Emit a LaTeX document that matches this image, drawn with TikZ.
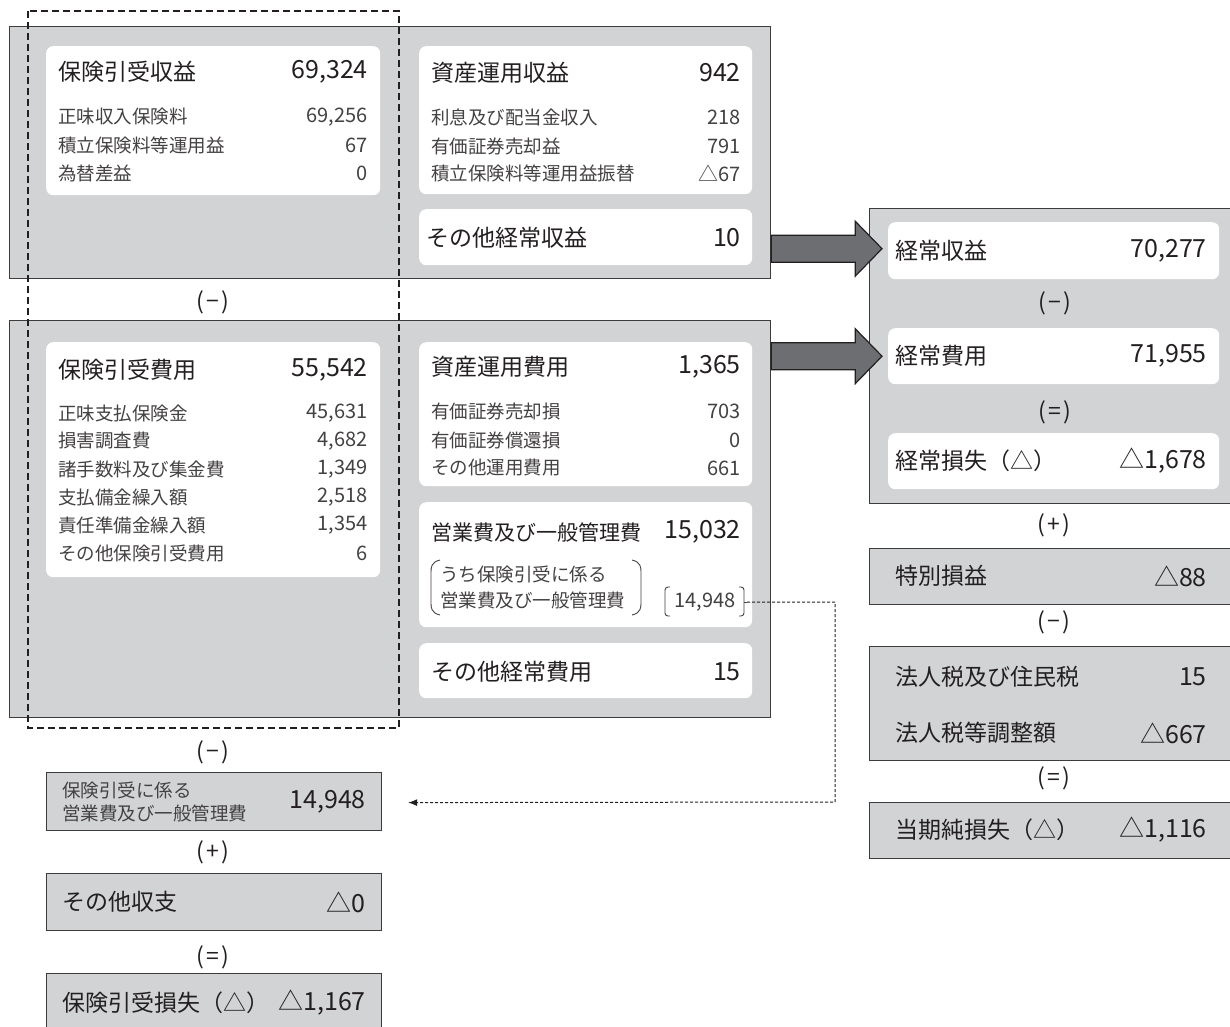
\documentclass[tikz,border=0pt]{standalone}
\usepackage{fontspec}
\setmainfont{Noto Sans CJK JP}
\usetikzlibrary{calc,arrows.meta}
\definecolor{gbg}{HTML}{D1D3D4}
\definecolor{bord}{HTML}{3C3C3C}
\definecolor{txt}{HTML}{231F20}
\definecolor{arrg}{HTML}{6D6E71}
\newcommand{\bx}[6]{\node[#6, minimum width=#4pt, minimum height=#5pt] (#1) at (#2,#3) {};}
\newcommand{\opx}[1]{(\kern2.5pt#1\kern2.5pt)}
\begin{document}
\begin{tikzpicture}[x=1pt,y=-1pt,
  panel/.style={draw=bord, line width=1.2pt, fill=gbg, inner sep=0pt, anchor=north west, rectangle},
  card/.style={fill=white, rounded corners=7pt, inner sep=0pt, anchor=north west, rectangle},
  big/.style={font=\fontsize{23}{27}\selectfont, text=txt, inner sep=0pt},
  bignum/.style={font=\fontsize{25}{28}\selectfont, text=txt, inner sep=0pt},
  sub/.style={font=\fontsize{18.5}{22}\selectfont, text=txt!85, inner sep=0pt},
  subnum/.style={font=\fontsize{20}{23}\selectfont, text=txt!85, inner sep=0pt},
  op/.style={font=\fontsize{23}{26}\selectfont, text=txt, inner sep=0pt},
  L/.style={anchor=west},
  R/.style={anchor=east},
  blk/.style={draw=txt, line width=1.2pt, fill=arrg, line join=miter},
  brk/.style={draw=txt!85, line width=0.9pt, rounded corners=3pt},
  dline/.style={draw=txt, line width=1pt, dash pattern=on 3pt off 2pt},
  dbox/.style={draw=txt, line width=2pt, dash pattern=on 7pt off 4pt}
]
\useasboundingbox (0,0) rectangle (1230,1026);

% ---------- panels ----------
\bx{ptop}{9}{26}{761}{252}{panel}
\bx{pmid}{9}{320}{761}{397}{panel}
\bx{pright}{869}{208}{371}{295}{panel}
\bx{ptoku}{869}{548}{371}{56}{panel}
\bx{ptax}{869}{646}{371}{114}{panel}
\bx{pnet}{869}{802}{371}{56}{panel}
\bx{bH}{46}{772}{335}{58}{panel}
\bx{bI}{46}{873}{335}{57}{panel}
\bx{bJ}{46}{973}{335}{70}{panel}

% ---------- cards ----------
\bx{cA}{46}{46}{334}{149}{card}
\bx{cB}{419}{46}{333}{148}{card}
\bx{cC}{419}{209}{333}{56}{card}
\bx{cD}{46}{342}{334}{235}{card}
\bx{cE}{419}{342}{333}{144}{card}
\bx{cF}{419}{502}{333}{125}{card}
\bx{cG}{419}{643}{333}{55}{card}
\bx{inc}{888}{222}{331}{57}{card}
\bx{exp}{888}{328}{331}{56}{card}
\bx{ord}{888}{433}{331}{56}{card}

% ---------- dashed frame ----------
\draw[dbox] (28,11) rectangle (399,728);

% ---------- card A ----------
\node[big,L] (a0) at (58,72) {保険引受収益};
\node[bignum,R] (a0v) at (368,72) {69,324};
\node[sub,L] (a1) at (58,117) {正味収入保険料};
\node[subnum,R] (a1v) at (368,117) {69,256};
\node[sub,L] (a2) at (58,145) {積立保険料等運用益};
\node[subnum,R] (a2v) at (368,145) {67};
\node[sub,L] (a3) at (58,173) {為替差益};
\node[subnum,R] (a3v) at (368,173) {0};

% ---------- card B ----------
\node[big,L] (b0) at (431,73) {資産運用収益};
\node[bignum,R] (b0v) at (741,73) {942};
\node[sub,L] (b1) at (431,117) {利息及び配当金収入};
\node[subnum,R] (b1v) at (741,117) {218};
\node[sub,L] (b2) at (431,146) {有価証券売却益};
\node[subnum,R] (b2v) at (741,146) {791};
\node[sub,L] (b3) at (431,173) {積立保険料等運用益振替};
\node[subnum,R] (b3v) at (741,173) {△67};

% ---------- card C ----------
\node[big,L] (c0) at (426,238) {その他経常収益};
\node[bignum,R] (c0v) at (741,238) {10};

% ---------- card D ----------
\node[big,L] (d0) at (58,370) {保険引受費用};
\node[bignum,R] (d0v) at (368,370) {55,542};
\node[sub,L] (d1) at (58,413) {正味支払保険金};
\node[subnum,R] (d1v) at (368,413) {45,631};
\node[sub,L] (d2) at (58,441) {損害調査費};
\node[subnum,R] (d2v) at (368,441) {4,682};
\node[sub,L] (d3) at (58,469) {諸手数料及び集金費};
\node[subnum,R] (d3v) at (368,469) {1,349};
\node[sub,L] (d4) at (58,497) {支払備金繰入額};
\node[subnum,R] (d4v) at (368,497) {2,518};
\node[sub,L] (d5) at (58,525) {責任準備金繰入額};
\node[subnum,R] (d5v) at (368,525) {1,354};
\node[sub,L] (d6) at (58,553) {その他保険引受費用};
\node[subnum,R] (d6v) at (368,553) {6};

% ---------- card E ----------
\node[big,L] (e0) at (431,367) {資産運用費用};
\node[bignum,R] (e0v) at (741,367) {1,365};
\node[sub,L] (e1) at (431,411) {有価証券売却損};
\node[subnum,R] (e1v) at (741,411) {703};
\node[sub,L] (e2) at (431,440) {有価証券償還損};
\node[subnum,R] (e2v) at (741,440) {0};
\node[sub,L] (e3) at (431,468) {その他運用費用};
\node[subnum,R] (e3v) at (741,468) {661};

% ---------- card F ----------
\node[big,L,font=\fontsize{21}{25}\selectfont] (f0) at (431,532) {営業費及び一般管理費};
\node[bignum,R] (f0v) at (741,532) {15,032};
\node[sub,L] (f1) at (440,574) {うち保険引受に係る};
\node[sub,L] (f2) at (440,600) {営業費及び一般管理費};
\node[subnum] (uv) at (705,602) {14,948};
\draw[brk] (440,560) .. controls (431,562) and (431,568) .. (431,575) -- (431,600) .. controls (431,607) and (431,613) .. (440,615);
\draw[brk] (632,560) .. controls (641,562) and (641,568) .. (641,575) -- (641,600) .. controls (641,607) and (641,613) .. (632,615);
\draw[brk] (670,587) -- (665,587) -- (665,616) -- (670,616);
\draw[brk] (739,587) -- (744,587) -- (744,616) -- (739,616);
\draw[draw=txt!85, line width=0.9pt] (744,602) -- (747,602);
\coordinate (brR) at (747,602);

% ---------- card G ----------
\node[big,L] (g0) at (431,672) {その他経常費用};
\node[bignum,R] (g0v) at (741,672) {15};

% ---------- operators left ----------
\node[op] (o1) at (213,302) {\opx{−}};
\node[op] (o2) at (213,752) {\opx{−}};
\node[op] (o3) at (213,852) {\opx{+}};
\node[op] (o4) at (213,957) {\opx{=}};

% ---------- bottom-left boxes ----------
\node[sub,L] (h1) at (62,790) {保険引受に係る};
\node[sub,L] (h2) at (62,813) {営業費及び一般管理費};
\node[bignum,R] (hv) at (366,802) {14,948};
\node[big,L] (i0) at (62,902) {その他収支};
\node[bignum,R] (iv) at (366,902) {△0};
\node[big,L] (j0) at (62,1003) {保険引受損失（△）};
\node[bignum,R] (jv) at (366,1003) {△1,167};

% ---------- right column ----------
\node[big,L] (r1) at (895,251) {経常収益};
\node[bignum,R] (r1v) at (1207,251) {70,277};
\node[op] (o5) at (1055,303) {\opx{−}};
\node[big,L] (r2) at (895,356) {経常費用};
\node[bignum,R] (r2v) at (1207,356) {71,955};
\node[op] (o6) at (1055,412) {\opx{=}};
\node[big,L] (r3) at (895,461) {経常損失（△）};
\node[bignum,R] (r3v) at (1207,461) {△1,678};
\node[op] (o7) at (1054,525) {\opx{+}};
\node[big,L] (s1) at (895,576) {特別損益};
\node[bignum,R] (s1v) at (1207,576) {△88};
\node[op] (o8) at (1054,622) {\opx{−}};
\node[big,L] (t1) at (895,677) {法人税及び住民税};
\node[bignum,R] (t1v) at (1207,677) {15};
\node[big,L] (t2) at (895,733) {法人税等調整額};
\node[bignum,R] (t2v) at (1207,733) {△667};
\node[op] (o9) at (1054,778) {\opx{=}};
\node[big,L] (n1) at (895,830) {当期純損失（△）};
\node[bignum,R] (n1v) at (1207,830) {△1,116};

% ---------- block arrows ----------
\coordinate (t1a) at ($(ptop.east |- inc.west)+(0,-2)$);
\draw[blk] ($(t1a)+(0,-13.5)$) -- ++(84,0) -- ++(0,-14) -- ($(inc.west)+(-6,-2)$) -- ($(t1a)+(84,27.5)$) -- ++(0,-14) -- ($(t1a)+(0,13.5)$) -- cycle;
\coordinate (t2a) at ($(pmid.east |- exp.west)$);
\draw[blk] ($(t2a)+(0,-13.5)$) -- ++(84,0) -- ++(0,-14) -- ($(exp.west)+(-6,0)$) -- ($(t2a)+(84,27.5)$) -- ++(0,-14) -- ($(t2a)+(0,13.5)$) -- cycle;

% ---------- dashed connector ----------
\coordinate (dc1) at (835,602);
\coordinate (dc2) at (835,802);
\draw[dline, -{Latex[length=9pt,width=7pt]}] (brR) -- (dc1) -- (dc2) -- ($(bH.east)+(26,1)$);
\end{tikzpicture}
\end{document}
